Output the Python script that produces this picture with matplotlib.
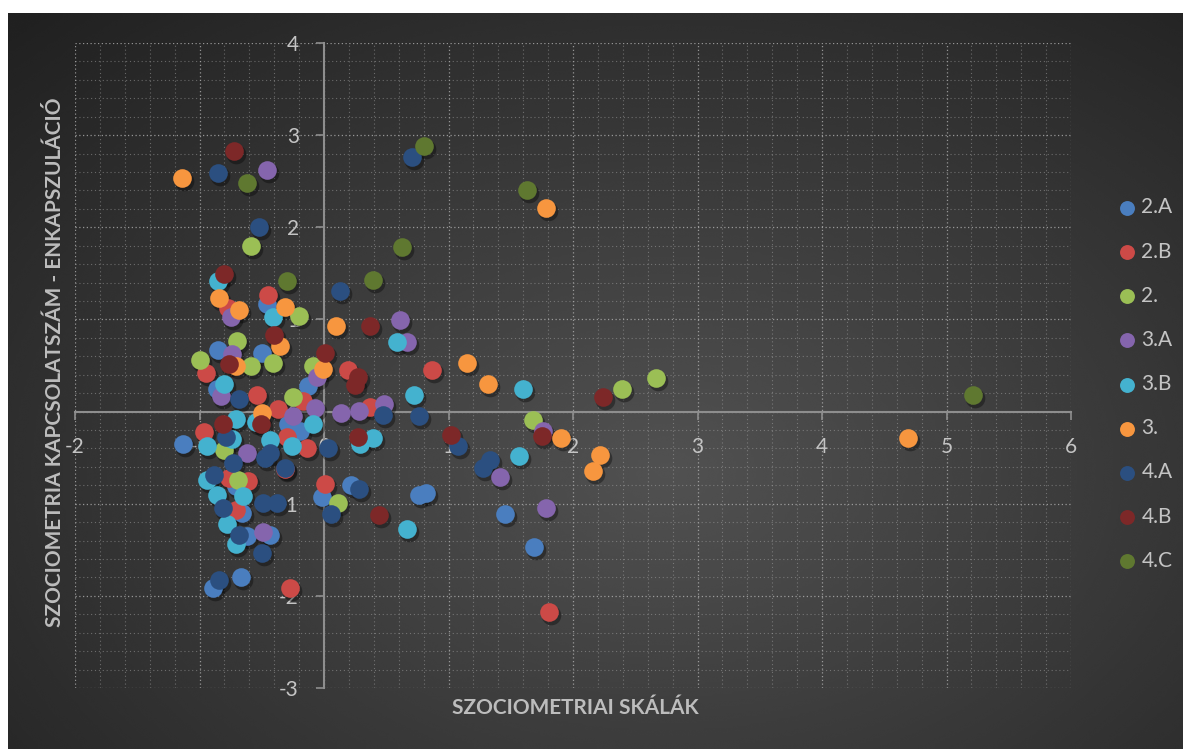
import matplotlib.pyplot as plt
import matplotlib.transforms as mtransforms
from matplotlib.ticker import MultipleLocator
import numpy as np

plt.rcParams['font.family'] = ['Lato', 'DejaVu Sans']
plt.rcParams['axes.unicode_minus'] = False

# Data: (sociometric scale, connection count - encapsulation) per class

labels = ["2.A", "2.B", "2.", "3.A", "3.B", "3.", "4.A", "4.B", "4.C"]
colors = ["#4a7ebf", "#cc4a47", "#9bbf55", "#8565ad", "#44b2cf",
          "#f7963f", "#2b4f80", "#7d2828", "#5f7830"]

x_2a = [-0.46, -0.85, -0.50, -0.86, -0.13, -0.29, -0.19, -1.13, -0.66, -0.62,
        -0.43, -0.67, -0.89, -0.02, 0.22, 0.76, 0.82, 1.45, 1.69, -0.71]
y_2a = [1.17, 0.67, 0.64, 0.25, 0.28, -0.13, -0.21, -0.35, -1.10, -1.35,
        -1.34, -1.80, -1.91, -0.93, -0.80, -0.91, -0.88, -1.11, -1.47, -0.81]

x_2b = [-0.45, -0.77, -0.95, -0.54, -0.17, -0.37, 0.19, 0.37, 0.87, -0.96,
        -0.30, -0.14, -0.61, -0.76, -0.71, 0.01, -0.27, 1.81, -0.31]
y_2b = [1.27, 1.12, 0.42, 0.18, 0.12, 0.03, 0.45, 0.05, 0.45, -0.22,
        -0.28, -0.40, -0.75, -0.72, -1.07, -0.79, -1.91, -2.17, -0.62]

x_2 = [-0.59, -0.20, -0.70, -1.00, -0.59, -0.41, -0.09, -0.25, -0.80, -0.69,
       0.11, 1.68, 2.39, 2.67]
y_2 = [1.80, 1.04, 0.77, 0.56, 0.50, 0.53, 0.49, 0.16, -0.42, -0.74,
       -0.99, -0.09, 0.25, 0.36]

x_3a = [-0.46, -0.75, -0.74, 0.61, 0.67, -0.83, -0.06, -0.07, -0.25, 0.14,
        0.28, 0.48, -0.62, -0.49, 1.41, 1.76, 1.78]
y_3a = [2.62, 1.03, 0.63, 0.99, 0.76, 0.17, 0.37, 0.04, -0.05, -0.02,
        0.01, 0.08, -0.45, -1.31, -0.71, -0.21, -1.05]

x_3b = [-0.85, -0.41, 0.59, -0.80, 0.72, 1.60, -0.71, -0.55, -0.09, -0.74,
        -0.94, -0.43, -0.26, 0.29, 0.39, -0.94, -0.86, -0.65, -0.78, -0.71,
        0.67, 1.57]
y_3b = [1.42, 1.03, 0.76, 0.30, 0.18, 0.25, -0.08, -0.11, -0.13, -0.30,
        -0.37, -0.31, -0.37, -0.35, -0.29, -0.74, -0.91, -0.92, -1.22, -1.44,
        -1.27, -0.48]

x_3 = [-1.14, -0.84, -0.68, -0.31, 0.10, -0.35, -0.71, -0.01, 1.15, 1.32,
       1.78, -0.50, 1.90, 2.22, 2.16, 4.69]
y_3 = [2.54, 1.23, 1.10, 1.13, 0.93, 0.71, 0.50, 0.46, 0.53, 0.30,
       2.21, -0.02, -0.29, -0.47, -0.65, -0.29]

x_4a = [-0.85, 0.71, -0.52, 0.13, -0.68, 0.47, 0.76, -0.79, 0.03, 1.08,
        1.33, 1.28, -0.73, -0.43, -0.47, -0.31, -0.88, -0.49, -0.38, -0.81,
        -0.68, -0.50, -0.84, 0.28, 0.06]
y_4a = [2.59, 2.76, 2.00, 1.31, 0.14, -0.04, -0.05, -0.28, -0.40, -0.37,
        -0.53, -0.61, -0.56, -0.45, -0.50, -0.61, -0.69, -0.99, -0.99, -1.05,
        -1.34, -1.53, -1.83, -0.84, -1.11]

x_4b = [-0.72, -0.80, -0.40, 0.37, -0.76, 0.01, 0.27, 0.25, 2.24, -0.81,
        -0.51, 0.27, 1.02, 1.75, 0.44]
y_4b = [2.83, 1.49, 0.83, 0.93, 0.52, 0.64, 0.37, 0.29, 0.16, -0.13,
        -0.13, -0.28, -0.25, -0.26, -1.12]

x_4c = [-0.62, 0.80, 1.63, 0.63, 0.39, -0.30, 5.21]
y_4c = [2.48, 2.88, 2.41, 1.79, 1.43, 1.42, 0.18]

xs = [x_2a, x_2b, x_2, x_3a, x_3b, x_3, x_4a, x_4b, x_4c]
ys = [y_2a, y_2b, y_2, y_3a, y_3b, y_3, y_4a, y_4b, y_4c]

W, H = 1187, 749
fig = plt.figure(figsize=(W / 100, H / 100), dpi=100)
fig.patch.set_facecolor("white")

# dark radial background
bg = fig.add_axes([8 / W, 0, 1175 / W, 736 / H])
bg.axis("off")
gy, gx = np.mgrid[0:300, 0:480]
r = np.sqrt(((gx - 0.56 * 480) / (0.78 * 480)) ** 2 + ((gy - 0.62 * 300) / (0.85 * 300)) ** 2)
shade = 0.13 + 0.19 * np.clip(1 - r, 0, 1)
bg.imshow(shade, cmap="gray", vmin=0, vmax=1, aspect="auto",
          extent=[0, 1, 0, 1], interpolation="bicubic")

ax = fig.add_axes([75 / W, 1 - 688 / H, 996 / W, 645 / H])
ax.patch.set_alpha(0)
ax.set_xlim(-2, 6)
ax.set_ylim(-3, 4)

ax.spines["left"].set_position(("data", 0))
ax.spines["bottom"].set_position(("data", 0))
ax.spines["top"].set_visible(False)
ax.spines["right"].set_visible(False)
for s in ["left", "bottom"]:
    ax.spines[s].set_color("#8e8e8e")
    ax.spines[s].set_linewidth(1.5)

ax.set_xticks(range(-2, 7))
ax.set_yticks(range(-3, 5))
ax.xaxis.set_minor_locator(MultipleLocator(0.2))
ax.yaxis.set_minor_locator(MultipleLocator(0.2))
ax.tick_params(which="major", colors="#8e8e8e", labelcolor="#c4c4c4",
               labelsize=15, length=6, width=1.2, pad=12)
ax.tick_params(which="minor", length=0)
ax.grid(which="major", ls=(0, (1, 2)), color="#b8b8b8", lw=0.9, alpha=0.75)
ax.grid(which="minor", ls=(0, (1, 2.5)), color="#a8a8a8", lw=0.8, alpha=0.5)
ax.set_axisbelow(True)

shadow = mtransforms.offset_copy(ax.transData, fig=fig, x=2, y=-3, units="dots")
handles = []
for xv, yv, col, lab in zip(xs, ys, colors, labels):
    ax.scatter(xv, yv, s=200, c="black", alpha=0.35, lw=0, transform=shadow, zorder=3)
    h = ax.scatter(xv, yv, s=180, c=col, lw=0, zorder=4, label=lab)
    handles.append(h)

leg = fig.legend(handles=handles, loc="upper left", bbox_to_anchor=(1106 / W, 1 - 187 / H),
                 frameon=False, fontsize=15, labelcolor="#c4c4c4", handlelength=1.0,
                 handletextpad=0.2, labelspacing=1.16, borderpad=0, markerscale=0.8)

fig.text(55 / W, 1 - 362 / H, "SZOCIOMETRIA KAPCSOLATSZÁM - ENKAPSZULÁCIÓ",
         rotation=90, ha="center", va="center", fontsize=15, fontweight="bold",
         color="#bdbdbd")
fig.text(575 / W, 1 - 708 / H, "SZOCIOMETRIAI SKÁLÁK", ha="center", va="center",
         fontsize=15, fontweight="bold", color="#bdbdbd")

fig.savefig("out.png", dpi=100, facecolor="white")
